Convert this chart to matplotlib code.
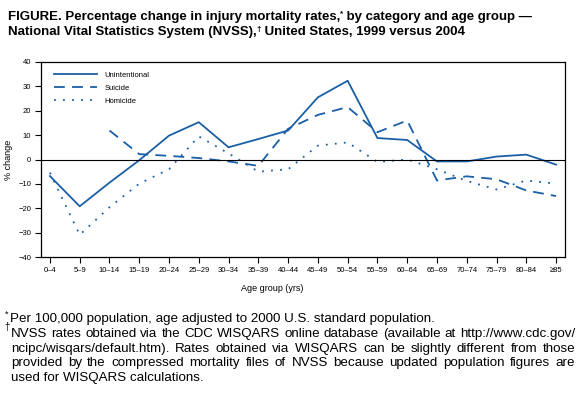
import numpy as np
import matplotlib.pyplot as plt
from matplotlib.lines import Line2D

plt.rcParams['font.family'] = ['Liberation Sans', 'DejaVu Sans']

# Data
age_groups = ["0\u20134", "5\u20139", "10\u201314", "15\u201319", "20\u201324", "25\u201329",
              "30\u201334", "35\u201339", "40\u201344", "45\u201349", "50\u201354", "55\u201359",
              "60\u201364", "65\u201369", "70\u201374", "75\u201379", "80\u201384", "\u226585"]
unintentional = [-6.8, -19.2, -9.5, -0.3, 9.8, 15.3, 5.0, 8.4, 11.9, 25.5, 32.3,
                 8.8, 8.0, -0.8, -0.8, 1.2, 2.0, -2.1]
suicide = [np.nan, np.nan, 11.9, 2.2, 1.5, 0.6, -0.8, -2.6, 12.6, 18.3, 21.5,
           11.2, 16.0, -8.6, -6.9, -8.1, -12.7, -15.0]
homicide = [-5.4, -30.9, -19.6, -9.9, -4.0, 9.5, 2.5, -5.0, -4.0, 5.7, 7.0,
            -1.0, 0.0, -4.0, -8.8, -12.3, -8.6, -9.9]

blue = "#1a5fa6"
W, H = 583, 396
x = np.arange(len(age_groups))

fig = plt.figure(figsize=(W / 100, H / 100), dpi=100)
renderer = fig.canvas.get_renderer()
ax = fig.add_axes([41 / W, 1 - 257 / H, 524 / W, 195 / H])

ax.plot(x, unintentional, color=blue, lw=1.3, linestyle='-')
ax.plot(x, suicide, color=blue, lw=1.3, linestyle=(0, (6, 4)))
ax.plot(x, homicide, color=blue, lw=1.3, linestyle=(0, (1, 4)))
ax.axhline(0, color='black', lw=0.8)

ax.set_xlim(-0.3, 17.3)
ax.set_ylim(-40, 40)
ax.set_xticks(x)
ax.set_xticklabels(age_groups)
ax.set_yticks(range(-40, 41, 10))
ax.tick_params(labelsize=5.5, length=4, width=0.8, direction='out', pad=3)
for s in ax.spines.values():
    s.set_linewidth(0.9)
ax.set_xlabel("Age group (yrs)", fontsize=6.5)
ax.xaxis.set_label_coords((272 - 41) / 524, -0.14)
ax.set_ylabel("% change", fontsize=6.5, labelpad=4)

handles = [Line2D([], [], color=blue, lw=1.3, linestyle='-'),
           Line2D([], [], color=blue, lw=1.3, linestyle=(0, (6, 4))),
           Line2D([], [], color=blue, lw=1.3, linestyle=(0, (1, 4)))]
ax.legend(handles, ["Unintentional", "Suicide", "Homicide"], loc='upper left',
          frameon=False, fontsize=5.5, handlelength=5.6, handletextpad=1.0,
          labelspacing=0.75, borderaxespad=0.6, bbox_to_anchor=(0.01, 0.99))


def text_run(parts, x0, y, size, weight='normal'):
    # draw a line made of (text, is_superscript) pieces one after another
    xp = x0
    for t, sup in parts:
        fs = size * 0.62 if sup else size
        yy = y - size * 0.45 if sup else y
        txt = fig.text(xp / W, 1 - yy / H, t, fontsize=fs, fontweight=weight,
                       va='baseline', ha='left')
        xp = txt.get_window_extent(renderer).x1


def justified(line, x0, x1, y, size):
    words = line.split()
    objs = [fig.text(0, 1 - y / H, w, fontsize=size, va='baseline', ha='left') for w in words]
    widths = [o.get_window_extent(renderer).width for o in objs]
    gap = (x1 - x0 - sum(widths)) / (len(words) - 1)
    xp = x0
    for o, w in zip(objs, widths):
        o.set_x(xp / W)
        xp += w + gap


# Title
title_size = 9.5
text_run([("FIGURE. Percentage change in injury mortality rates,", False), ("*", True),
          (" by category and age group \u2014", False)], 8, 20, title_size, 'bold')
text_run([("National Vital Statistics System (NVSS),", False), ("\u2020", True),
          (" United States, 1999 versus 2004", False)], 8, 35, title_size, 'bold')

# Footnotes
note_size = 9.6
fig.text(10 / W, 1 - 322 / H, "Per 100,000 population, age adjusted to 2000 U.S. standard population.",
         fontsize=note_size, va='baseline', ha='left')
justified("NVSS rates obtained via the CDC WISQARS online database (available at http://www.cdc.gov/",
          11, 575, 337, note_size)
justified("ncipc/wisqars/default.htm). Rates obtained via WISQARS can be slightly different from those",
          11, 575, 352, note_size)
justified("provided by the compressed mortality files of NVSS because updated population figures are",
          11, 575, 366, note_size)
fig.text(11 / W, 1 - 381 / H, "used for WISQARS calculations.", fontsize=note_size,
         va='baseline', ha='left')
fig.text(5 / W, 1 - 317 / H, "*", fontsize=6.5, va='baseline', ha='left')
fig.text(4 / W, 1 - 330 / H, "\u2020", fontsize=7, va='baseline', ha='left')

fig.savefig("out.png", dpi=100)
